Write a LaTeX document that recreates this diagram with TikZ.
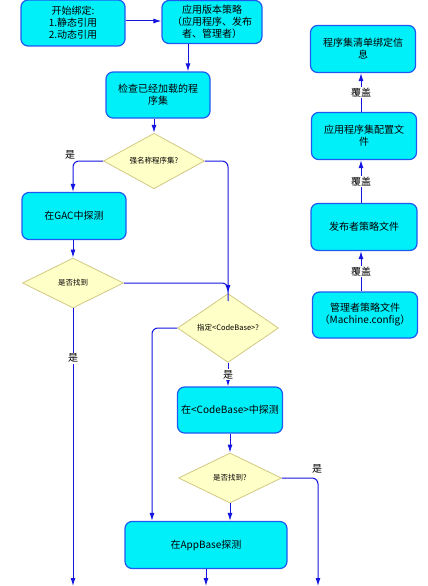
\documentclass[tikz,border=0pt]{standalone}
\usepackage{fontspec}
\setmainfont{Noto Sans CJK SC}
\usepackage{xcolor}
\usetikzlibrary{shapes.geometric, arrows.meta, calc}

\definecolor{boxFill}{RGB}{0,240,250}
\definecolor{boxLine}{RGB}{30,90,240}
\definecolor{decFill}{RGB}{255,255,200}
\definecolor{decLine}{RGB}{210,200,130}
\definecolor{flowLine}{RGB}{20,20,225}

\begin{document}
\begin{tikzpicture}[x=1pt, y=-1pt, >={Latex[length=8pt,width=5pt]}, line width=1pt]
        \tikzstyle{box} = [rectangle, draw=boxLine, fill=boxFill, line width=1.2pt, rounded corners=7pt, align=center, font=\fontsize{10}{12}\selectfont, inner sep=2pt]
        \tikzstyle{stepBox} = [box, minimum width=104pt, minimum height=46pt]
        \tikzstyle{wideBox} = [box, minimum width=162pt, minimum height=47pt]
        \tikzstyle{decision} = [diamond, draw=decLine, fill=decFill, line width=0.8pt, inner sep=0pt, minimum width=101pt, minimum height=50pt, font=\fontsize{7.5}{9}\selectfont]
        \tikzstyle{flow} = [draw=flowLine, line width=1pt]
        \tikzstyle{lbl} = [font=\fontsize{10}{12}\selectfont, inner sep=1pt]

        \useasboundingbox (0,0) rectangle (428,586);

        \node[stepBox] (start) at (73,23) {开始绑定:\\1.静态引用\\2.动态引用};
        \node[stepBox, minimum width=100pt, minimum height=43pt] (version) at (212,22) {应用版本策略\\（应用程序、发布\\者、管理者）};
        \node[stepBox] (check) at (158,95) {检查已经加载的程\\序集};
        \node[decision] (dstrong) at (154,161) {强名称程序集?};
        \node[stepBox, minimum height=47pt] (gac) at (74,216) {在GAC中探测};
        \node[decision] (dfound1) at (73,283) {是否找到};
        \node[decision] (dcb) at (228,328) {指定<CodeBase>?};
        \node[stepBox, minimum width=105pt] (cb) at (230,410) {在<CodeBase>中探测};
        \node[decision, minimum width=103pt] (dfound2) at (230,478) {是否找到?};
        \node[wideBox] (app) at (206,545) {在AppBase探测};

        \node[stepBox, minimum width=105pt, minimum height=47pt] (manifest) at (363,49) {程序集清单绑定信\\息};
        \node[stepBox, minimum width=105pt, minimum height=47pt] (appcfg) at (364,136) {应用程序集配置文\\件};
        \node[stepBox, minimum width=106pt, minimum height=47pt] (pubpol) at (364,227) {发布者策略文件};
        \node[stepBox, minimum width=105pt] (machine) at (365,315) {管理者策略文件\\（Machine.config）};

        \coordinate (endGac) at (73,586);
        \coordinate (endApp) at (206,586);
        \coordinate (endCb) at (318,586);

        % main flow
        \draw[flow, ->] (start.east |- 0,21) -- (version.west |- 0,21);
        \draw[flow, ->] ([xshift=-24pt]version.south) -- ([xshift=-24pt]version.south |- check.north);
        \draw[flow, ->] (check.south -| dstrong.north) -- (dstrong.north);

        \draw[flow, ->, rounded corners=6pt] (dstrong.west) -| (dfound1.north |- gac.north);
        \node[lbl] (yesStrong) at (70,155) {是};
        \draw[flow, ->] (gac.south -| dfound1.north) -- (dfound1.north);

        \draw[flow, ->, rounded corners=6pt] (dstrong.east) -| (dcb.north);
        \draw[flow, rounded corners=6pt] (dfound1.east) -| ([yshift=-8pt]dcb.north);
        \draw[flow, ->] (dfound1.south) -- node[lbl, fill=white, pos=0.18] {是} (endGac);

        \draw[flow, ->, rounded corners=6pt] (dcb.west) -| ([xshift=-54pt]app.north);
        \draw[flow, ->] (dcb.south) -- node[lbl, fill=white] {是} (dcb.south |- cb.north);
        \draw[flow, ->] (cb.south) -- (dfound2.north);
        \draw[flow, ->] (dfound2.south) -- (dfound2.south |- app.north);
        \draw[flow, ->, rounded corners=6pt] (dfound2.east) -| (endCb);
        \node[lbl] (yesFound) at (317,469) {是};
        \draw[flow, ->] (app.south) -- (endApp);

        % policy chain
        \draw[flow, ->] (appcfg.north -| 361,0) -- node[lbl, fill=white] {覆盖} (manifest.south -| 361,0);
        \draw[flow, ->] (pubpol.north -| 361,0) -- node[lbl, fill=white] {覆盖} (appcfg.south -| 361,0);
        \draw[flow, ->] (machine.north -| 361,0) -- node[lbl, fill=white] {覆盖} (pubpol.south -| 361,0);
    \end{tikzpicture}
\end{document}
